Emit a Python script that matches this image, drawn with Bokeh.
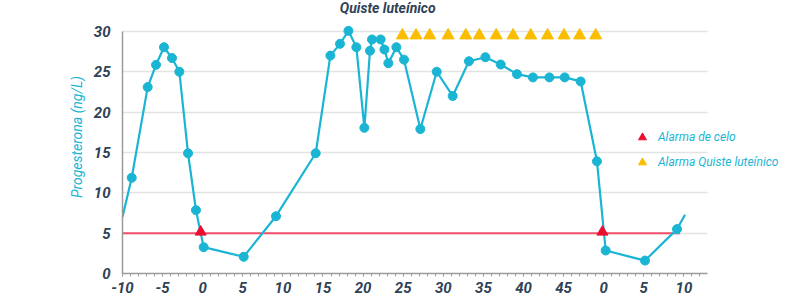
from bokeh.plotting import figure
from bokeh.models import (ColumnDataSource, FixedTicker, Legend, LegendItem, Label)
from bokeh.embed import file_html
from bokeh.resources import INLINE

# ---- data ----
dias = [-10, -8.85, -6.86, -5.82, -4.83, -3.83, -2.91, -1.83, -0.84, 0.12, 5.11, 9.14,
        14.09, 15.92, 17.12, 18.17, 19.16, 20.16, 20.86, 21.11, 22.19, 22.66, 23.15,
        24.15, 25.1, 27.14, 29.18, 31.17, 33.2, 35.25, 37.16, 39.19, 41.18, 43.23,
        45.14, 47.13, 49.16, 50.25, 55.15, 59.14, 60.14]
progesterona = [7.0, 11.86, 23.1, 25.86, 28.04, 26.7, 25.0, 14.9, 7.85, 3.26, 2.07, 7.1,
                14.9, 27.0, 28.46, 30.07, 28.04, 18.05, 27.6, 29.0, 29.0, 27.76, 26.06,
                28.04, 26.5, 17.9, 25.0, 22.0, 26.3, 26.8, 25.9, 24.7, 24.3, 24.3,
                24.3, 23.8, 13.9, 2.85, 1.6, 5.5, 7.27]

celo_x = [-0.25, 49.84]
celo_y = [5.15, 5.15]

quiste_x = [24.9, 26.6, 28.3, 30.6, 32.8, 34.5, 36.6, 38.7, 40.9, 43.0, 45.05, 47.0, 49.0]
quiste_y = [29.5] * len(quiste_x)

umbral_x = [-10, 59.5]
umbral_y = [5, 5]

tick_pos = [-10, -5, 0, 5, 10, 15, 20, 25, 30, 35, 40, 45, 50, 55, 60]
tick_lbl = ["-10", "-5", "0", "5", "10", "15", "20", "25", "30", "35", "40", "45", "0", "5", "10"]
minor_pos = list(range(-10, 63))

FONT = "Roboto"
CYAN = "#1bb5d4"
NAVY = "#2f4256"

p = figure(width=800, height=300, x_range=(-10, 74.54), y_range=(0, 33.83),
           output_backend="svg", toolbar_location=None,
           min_border_left=122, min_border_right=0, min_border_top=0,
           min_border_bottom=27)
p.outline_line_color = None
p.background_fill_color = "white"

# axes
p.xaxis.ticker = FixedTicker(ticks=tick_pos, minor_ticks=minor_pos)
p.xaxis.major_label_overrides = {t: l for t, l in zip(tick_pos, tick_lbl)}
p.xaxis.bounds = (-10, 63)
p.yaxis.ticker = FixedTicker(ticks=[0, 5, 10, 15, 20, 25, 30])
p.yaxis.bounds = (0, 30)

for ax in (p.xaxis, p.yaxis):
    ax.axis_line_color = "#9a9a9a"
    ax.axis_line_width = 1.5
    ax.major_label_text_font = FONT
    ax.major_label_text_font_style = "bold italic"
    ax.major_label_text_font_size = "15px"
    ax.major_label_text_color = NAVY

p.xaxis.major_tick_line_color = "#9a9a9a"
p.xaxis.minor_tick_line_color = "#9a9a9a"
p.xaxis.major_tick_out = 3
p.xaxis.major_tick_in = 0
p.xaxis.minor_tick_out = 3
p.xaxis.minor_tick_in = 0
p.xaxis.major_label_standoff = 5

p.yaxis.major_tick_line_color = None
p.yaxis.minor_tick_line_color = None
p.yaxis.major_tick_out = 0
p.yaxis.major_tick_in = 0
p.yaxis.major_label_standoff = 12
p.yaxis.axis_label = "Progesterona (ng/L)"
p.yaxis.axis_label_text_font = FONT
p.yaxis.axis_label_text_font_style = "italic"
p.yaxis.axis_label_text_font_size = "14px"
p.yaxis.axis_label_text_color = CYAN
p.yaxis.axis_label_standoff = 6

p.xgrid.grid_line_color = None
p.ygrid.grid_line_color = "#e3e3e3"
p.ygrid.grid_line_width = 1.5
p.ygrid.bounds = (5, 30)
p.ygrid.cross_bounds = (-10, 63)

# series
p.line(umbral_x, umbral_y, line_color="#f2506a", line_width=2)
src = ColumnDataSource(dict(x=dias, y=progesterona))
p.line("x", "y", source=src, line_color=CYAN, line_width=2.2)
p.scatter(dias[1:-1], progesterona[1:-1], size=9, color=CYAN)
r_celo = p.scatter(celo_x, celo_y, marker="triangle", size=11, color="#e8102e")
r_quiste = p.scatter(quiste_x, quiste_y, marker="triangle", size=12, color="#fbbd00")

legend = Legend(items=[LegendItem(label="Alarma de celo", renderers=[r_celo]),
                       LegendItem(label="Alarma Quiste luteínico", renderers=[r_quiste])],
                location=(510, 101), margin=0, padding=0, spacing=5,
                glyph_width=20, glyph_height=20, label_standoff=6,
                border_line_color=None, background_fill_alpha=0,
                label_text_font=FONT, label_text_font_style="italic",
                label_text_font_size="12px", label_text_color=CYAN)
p.add_layout(legend, "center")

title = Label(x=23.07, y=32.96, text="Quiste luteínico", text_align="center",
              text_baseline="middle", text_font=FONT, text_font_style="bold italic",
              text_font_size="14px", text_color=NAVY)
p.add_layout(title)

open("out.html", "w").write(file_html(p, INLINE))
